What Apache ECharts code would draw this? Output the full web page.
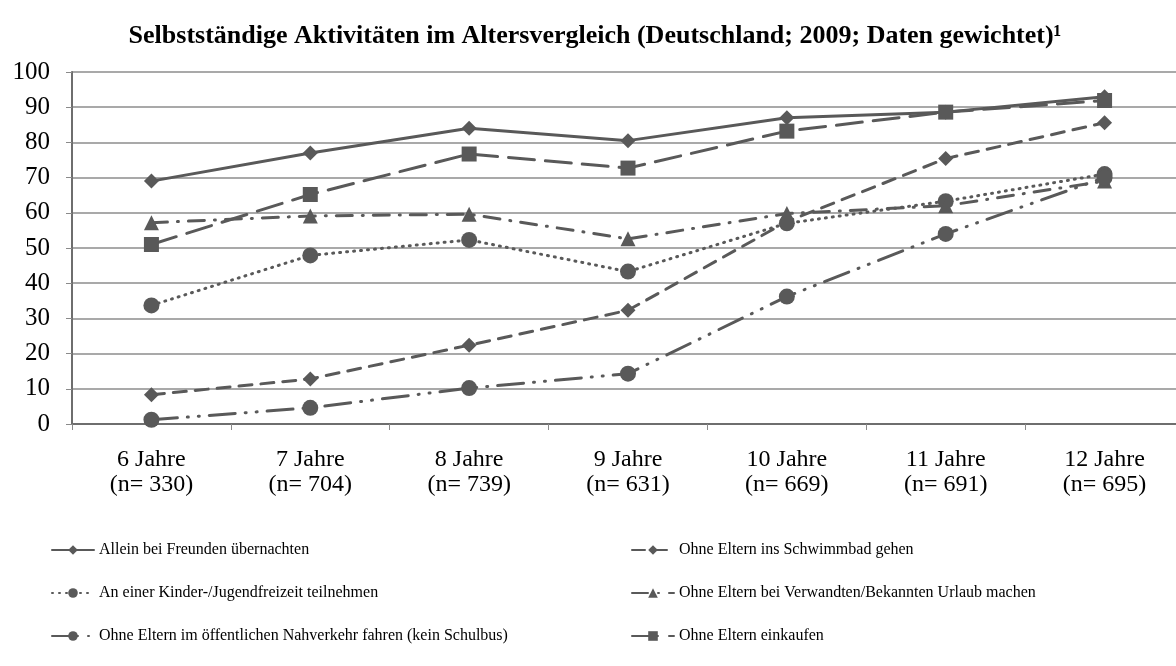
<!DOCTYPE html>
<html>
<head>
<meta charset="utf-8">
<script src="https://cdn.jsdelivr.net/npm/echarts@6/dist/echarts.min.js"></script>
<style>
  html, body { margin: 0; padding: 0; background: #fff; }
  #chart { width: 1176px; height: 666px; }
</style>
</head>
<body>
<div id="chart"></div>
<script>
const ages = ["6 Jahre", "7 Jahre", "8 Jahre", "9 Jahre", "10 Jahre", "11 Jahre", "12 Jahre"];
const sampleSizes = [330, 704, 739, 631, 669, 691, 695];

const freunde = [69, 77, 84, 80.5, 87, 88.6, 93];
const schwimmbad = [8.3, 12.8, 22.4, 32.3, 57.5, 75.4, 85.6];
const freizeit = [33.7, 47.9, 52.3, 43.3, 57, 63.3, 71];
const urlaub = [57.2, 59.1, 59.6, 52.6, 59.8, 62, 69];
const nahverkehr = [1.2, 4.6, 10.2, 14.3, 36.2, 54, 70];
const einkaufen = [51, 65.2, 76.7, 72.7, 83.2, 88.6, 91.9];

const yTicks = [0, 10, 20, 30, 40, 50, 60, 70, 80, 90, 100];

const grey = "#595959";
const serif = "'Liberation Serif', 'DejaVu Serif', serif";

function line(name, data, dash, symbol, size) {
  return {
    name,
    type: "line",
    data,
    symbol,
    symbolSize: size,
    showSymbol: true,
    itemStyle: { color: grey },
    lineStyle: { color: grey, width: 3, type: dash, cap: "round" },
    emphasis: { disabled: true },
    animation: false,
  };
}

const legendBase = {
  orient: "vertical",
  top: 537,
  itemGap: 27,
  itemWidth: 42,
  itemHeight: 12,
  textStyle: { fontFamily: serif, fontSize: 16, color: "#000" },
};

const chart = echarts.init(document.getElementById("chart"), null, { renderer: "canvas" });
chart.setOption({
  backgroundColor: "#fff",
  animation: false,
  title: {
    text: "Selbstständige Aktivitäten im Altersvergleich (Deutschland; 2009; Daten gewichtet)¹",
    left: 590,
    textAlign: "center",
    top: 18,
    textStyle: { fontFamily: serif, fontWeight: "bold", fontSize: 26, color: "#000" },
  },
  grid: { left: 72, right: -8, top: 72, bottom: 242, outerBoundsMode: "none" },
  legend: [
    {
      ...legendBase,
      left: 46,
      data: ["Allein bei Freunden übernachten", "An einer Kinder-/Jugendfreizeit teilnehmen",
        "Ohne Eltern im öffentlichen Nahverkehr fahren (kein Schulbus)"],
    },
    {
      ...legendBase,
      left: 626,
      data: ["Ohne Eltern ins Schwimmbad gehen", "Ohne Eltern bei Verwandten/Bekannten Urlaub machen",
        "Ohne Eltern einkaufen"],
    },
  ],
  xAxis: {
    type: "category",
    data: ages.map((a, i) => `${a}\n(n= ${sampleSizes[i]})`),
    boundaryGap: true,
    axisLine: { lineStyle: { color: "#6e6e6e", width: 2 } },
    axisTick: { show: true, length: 6, lineStyle: { color: "#8a8a8a" } },
    axisLabel: { fontFamily: serif, fontSize: 24, color: "#000", lineHeight: 25, margin: 23 },
  },
  yAxis: {
    type: "value",
    min: yTicks[0],
    max: yTicks[yTicks.length - 1],
    interval: 10,
    axisLine: { show: true, lineStyle: { color: "#6e6e6e", width: 2 } },
    axisTick: { show: true, length: 6, lineStyle: { color: "#8a8a8a" } },
    axisLabel: { fontFamily: serif, fontSize: 25, color: "#000", margin: 22 },
    splitLine: { lineStyle: { color: "#8c8c8c", width: 1.5 } },
  },
  series: [
    line("Allein bei Freunden übernachten", freunde, "solid", "diamond", 15),
    line("Ohne Eltern ins Schwimmbad gehen", schwimmbad, [13, 9], "diamond", 15),
    line("An einer Kinder-/Jugendfreizeit teilnehmen", freizeit, [1, 6], "circle", 16),
    line("Ohne Eltern bei Verwandten/Bekannten Urlaub machen", urlaub, [16, 10, 1, 10], "triangle", 15),
    line("Ohne Eltern im öffentlichen Nahverkehr fahren (kein Schulbus)", nahverkehr, [26, 10, 1, 10, 1, 10], "circle", 16),
    line("Ohne Eltern einkaufen", einkaufen, [26, 11], "rect", 15),
  ],
});
</script>
</body>
</html>
